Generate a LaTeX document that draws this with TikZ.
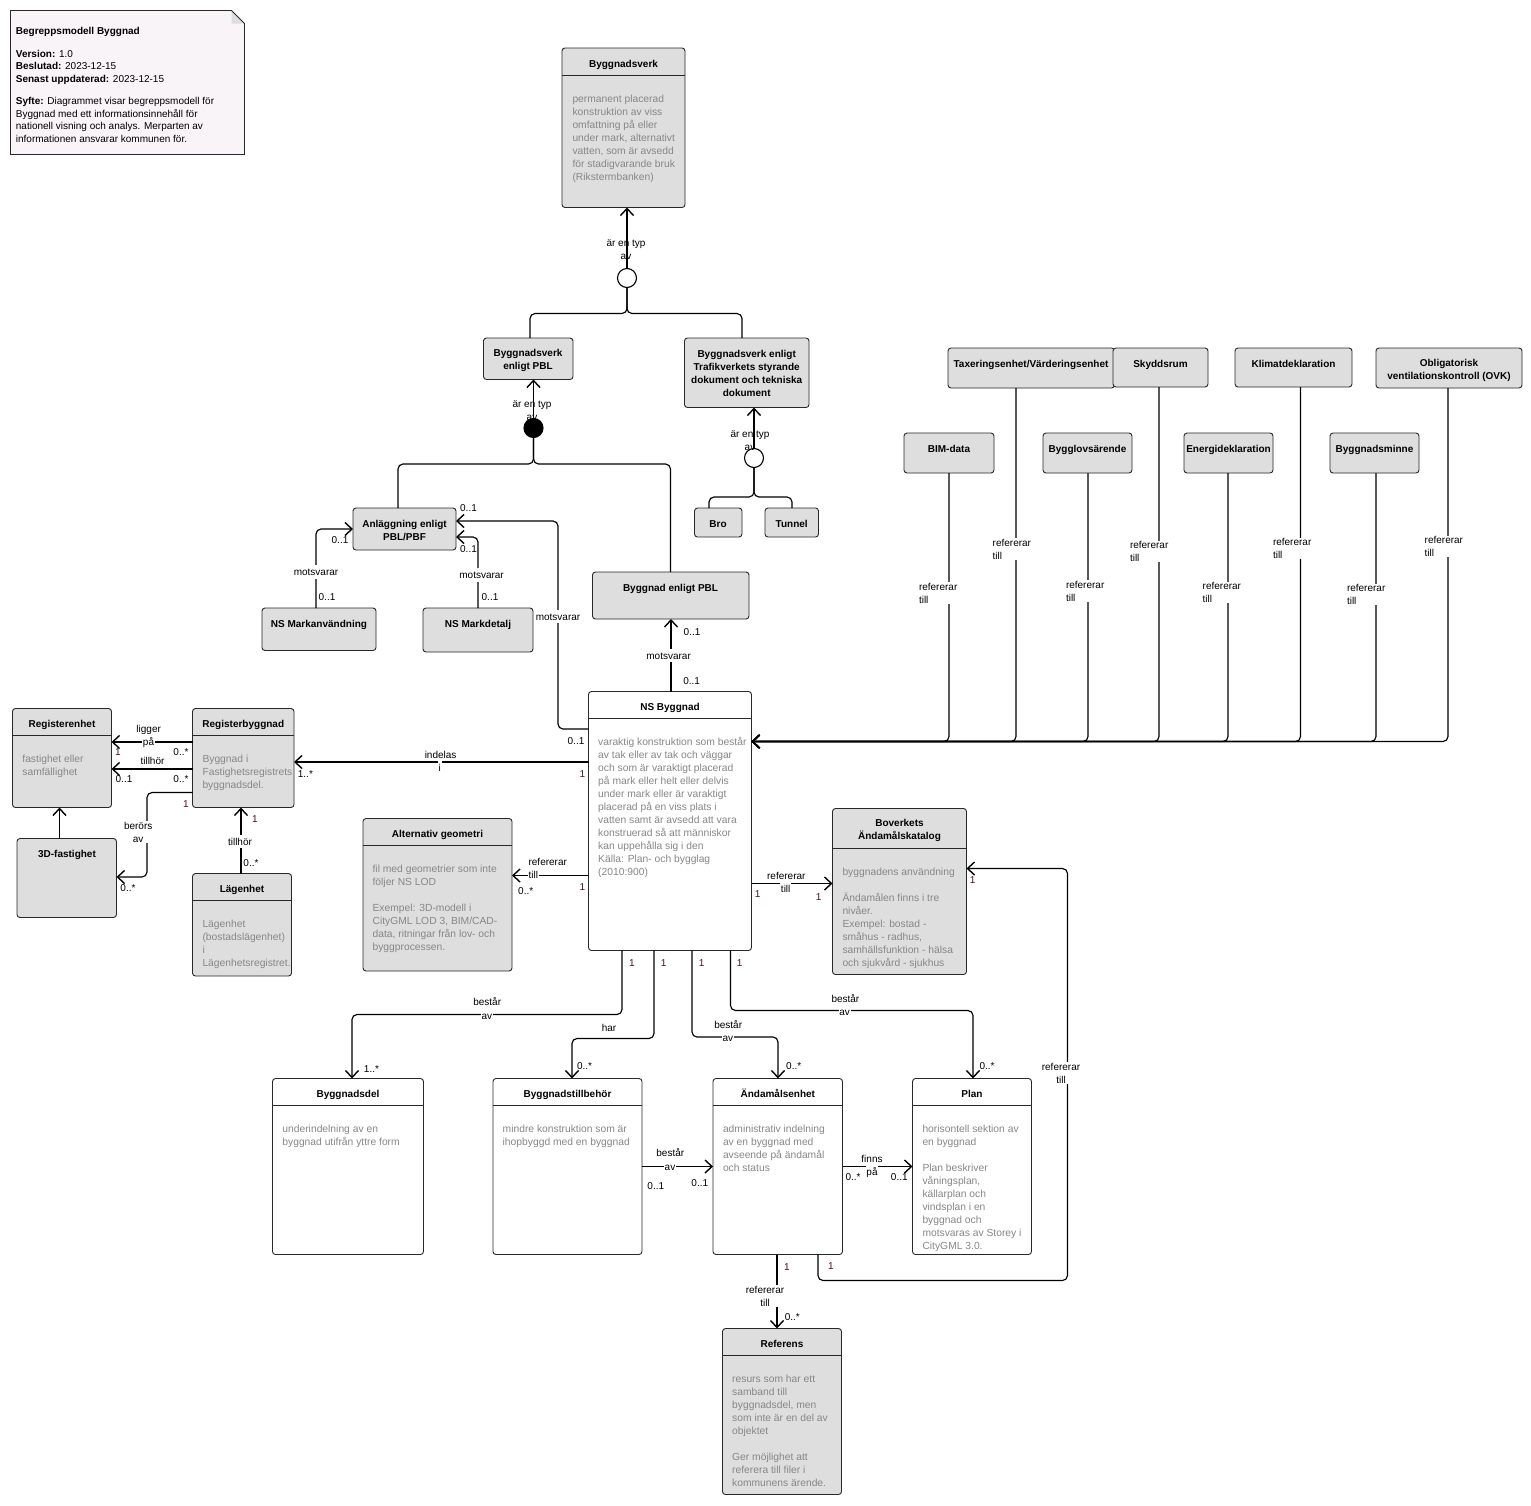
\documentclass[tikz,border=0pt]{standalone}
\usepackage{fontspec}
\setmainfont{Liberation Sans}
\usetikzlibrary{arrows.meta}
\definecolor{boxgray}{RGB}{222,222,222}
\definecolor{notefill}{RGB}{248,244,248}
\definecolor{desctext}{RGB}{135,135,135}
\definecolor{multone}{RGB}{80,10,50}
\definecolor{boxborder}{RGB}{40,40,40}
\newcommand\UBox[6]{\node[ubox,#6,minimum width={#4-#2},minimum height={#5-#3}] (#1) at ({(#2+#4)/2},{(#3+#5)/2}) {};}
\newcommand\HSep[2]{\draw[sepline] (#1.west |- 0,#2) -- (#1.east |- 0,#2);}
\newcommand\Desc[4]{\node[desc] (#1) at (#2,{#3-5.9}) {\rule{0pt}{9.5pt}#4};}
\begin{document}
\begin{tikzpicture}[x=1pt,y=-1pt,
  ubox/.style={draw=boxborder, line width=0.9pt, rounded corners=3pt, inner sep=0pt, outer sep=0pt},
  gbox/.style={ubox, fill=boxgray},
  wbox/.style={ubox, fill=white},
  sepline/.style={draw=boxborder, line width=0.9pt},
  conn/.style={draw=black, line width=1.15pt, rounded corners=5pt, -{Straight Barb[length=7pt,width=13pt,line width=1.4pt]}},
  plain/.style={draw=black, line width=1.15pt, rounded corners=5pt},
  ttl/.style={font=\bfseries\fontsize{10}{13}\selectfont, inner sep=0pt, text height=7.2pt, text depth=0pt},
  ttlm/.style={font=\bfseries\fontsize{10}{13}\selectfont, inner sep=0pt, align=center},
  desc/.style={anchor=north west, inner sep=0pt, align=left, font=\fontsize{10.3}{13}\selectfont, text=desctext},
  lab/.style={font=\fontsize{10}{13}\selectfont, inner sep=0.8pt, text height=7.2pt, text depth=0pt},
  labw/.style={lab, fill=white, inner ysep=3pt},
  blab/.style={font=\fontsize{10}{13}\selectfont, inner sep=0.8pt, align=center, fill=white},
  blabn/.style={font=\fontsize{10}{13}\selectfont, inner sep=0pt, align=center},
  rlab/.style={blab, anchor=west, align=left},
  mult/.style={font=\fontsize{10}{13}\selectfont, inner sep=0pt, text height=7.2pt, text depth=0pt},
  one/.style={mult, text=multone},
  gen/.style={circle, draw=black, line width=1.1pt, minimum size=19pt, inner sep=0pt, fill=white},
]
\useasboundingbox (0,0) rectangle (1531,1505);
\fill[white] (0,0) rectangle (1531,1505);

% ---- note ----
\fill[notefill] (10.5,10.5) -- (231.5,10.5) -- (244.5,23.5) -- (244.5,154.5) -- (10.5,154.5) -- cycle;
\fill[boxgray] (231.5,10.5) -- (244.5,23.5) -- (231.5,23.5) -- cycle;
\draw[line width=0.9pt, draw=boxborder] (10.5,10.5) -- (231.5,10.5) -- (244.5,23.5) -- (244.5,154.5) -- (10.5,154.5) -- cycle;
\node[desc, text=black, font=\fontsize{10}{12.5}\selectfont] (notetxt) at (15.7,{30.7-5.9}) {\rule{0pt}{9.5pt}\textbf{Begreppsmodell Byggnad}\\[10pt]\textbf{Version:} 1.0\\\textbf{Beslutad:} 2023-12-15\\\textbf{Senast uppdaterad:} 2023-12-15\\[10pt]\textbf{Syfte:} Diagrammet visar begreppsmodell för\\Byggnad med ett informationsinnehåll för\\nationell visning och analys. Merparten av\\informationen ansvarar kommunen för.};

% ---- boxes ----
\UBox{bv}{562}{48}{685}{207.5}{gbox}\HSep{bv}{75}
\UBox{bvpbl}{483.5}{338}{573}{379.5}{gbox}
\UBox{bvtrv}{684.5}{338}{809}{407.5}{gbox}
\UBox{anl}{353}{508}{456}{550}{gbox}
\UBox{nsm}{262}{608}{376}{650.5}{gbox}
\UBox{nsmd}{423}{608}{533}{652}{gbox}
\UBox{bpbl}{592.5}{572}{749}{619}{gbox}
\UBox{bro}{694.5}{508}{742}{537}{gbox}
\UBox{tun}{765}{508}{818.5}{537}{gbox}
\UBox{tax}{948}{348}{1114.5}{388}{gbox}
\UBox{sky}{1113}{348}{1208}{387}{gbox}
\UBox{kli}{1235}{348}{1352}{387}{gbox}
\UBox{ovk}{1376}{348}{1522}{388}{gbox}
\UBox{bim}{904}{433}{994}{473}{gbox}
\UBox{bygl}{1043}{433}{1132}{473}{gbox}
\UBox{ene}{1184}{433}{1273}{473}{gbox}
\UBox{bmin}{1330}{433}{1419}{473}{gbox}
\UBox{re}{12.5}{708.5}{111.5}{807.5}{gbox}\HSep{re}{735}
\UBox{rb}{192.5}{708.5}{294}{807.5}{gbox}\HSep{rb}{735}
\UBox{f3d}{17}{838.5}{116.5}{917.5}{gbox}
\UBox{lag}{192.5}{873.5}{291.5}{976}{gbox}\HSep{lag}{900}
\UBox{alt}{363}{818.5}{512}{971}{gbox}\HSep{alt}{845.5}
\UBox{nsb}{588.5}{691.5}{751.5}{950.5}{wbox}\HSep{nsb}{718.5}
\UBox{bov}{832.5}{808.5}{966.5}{974.5}{gbox}\HSep{bov}{848.5}
\UBox{bdel}{272.5}{1078.5}{423.5}{1254.5}{wbox}\HSep{bdel}{1105.5}
\UBox{btb}{493}{1078.5}{642}{1254.5}{wbox}\HSep{btb}{1105.5}
\UBox{aend}{713}{1078.5}{842.5}{1254.5}{wbox}\HSep{aend}{1105.5}
\UBox{plan}{912.5}{1078.5}{1031.5}{1254.5}{wbox}\HSep{plan}{1105.5}
\UBox{ref}{722.5}{1328.5}{841.5}{1494.5}{gbox}\HSep{ref}{1355.5}

% ---- generalization circles ----
\node[gen] (gc1) at (627,278) {};
\node[gen, fill=black] (gc2) at (533.5,428) {};
\node[gen] (gc3) at (754,458) {};

% ---- titles ----
\node[ttl] (tbv) at (623.5,63.7) {Byggnadsverk};
\node[ttlm] (tbvpbl) at (528,360.2) {Byggnadsverk\\enligt PBL};
\node[ttlm] (tbvtrv) at (746.7,373) {Byggnadsverk enligt\\Trafikverkets styrande\\dokument och tekniska\\dokument};
\node[ttlm] (tanl) at (404.5,530) {Anläggning enligt\\PBL/PBF};
\node[ttl] (tnsm) at (319,623.7) {NS Markanvändning};
\node[ttl] (tnsmd) at (478,623.7) {NS Markdetalj};
\node[ttl] (tbpbl) at (670.5,587.7) {Byggnad enligt PBL};
\node[ttl] (tbro) at (718,523.7) {Bro};
\node[ttl] (ttun) at (791.7,523.7) {Tunnel};
\node[ttl] (ttax) at (1031,363.7) {Taxeringsenhet/Värderingsenhet};
\node[ttl] (tsky) at (1160.5,363.7) {Skyddsrum};
\node[ttl] (tkli) at (1293.5,363.7) {Klimatdeklaration};
\node[ttlm] (tovk) at (1449,370.2) {Obligatorisk\\ventilationskontroll (OVK)};
\node[ttl] (tbim) at (949,448.7) {BIM-data};
\node[ttl] (tbygl) at (1087.5,448.7) {Bygglovsärende};
\node[ttl] (tene) at (1228.5,448.7) {Energideklaration};
\node[ttl] (tbmin) at (1374.5,448.7) {Byggnadsminne};
\node[ttl] (tre) at (62,723.7) {Registerenhet};
\node[ttl] (trb) at (243.3,723.7) {Registerbyggnad};
\node[ttl] (tf3d) at (67,853.7) {3D-fastighet};
\node[ttl] (tlag) at (242,888.7) {Lägenhet};
\node[ttl] (talt) at (437.5,833.7) {Alternativ geometri};
\node[ttl] (tnsb) at (670,706.7) {NS Byggnad};
\node[ttlm] (tbov) at (899.5,830.2) {Boverkets\\Ändamålskatalog};
\node[ttl] (tbdel) at (348,1093.7) {Byggnadsdel};
\node[ttl] (tbtb) at (567.5,1093.7) {Byggnadstillbehör};
\node[ttl] (taend) at (777.8,1093.7) {Ändamålsenhet};
\node[ttl] (tplan) at (972,1093.7) {Plan};
\node[ttl] (tref) at (782,1343.7) {Referens};

% ---- descriptions ----
\Desc{dbv}{572.3}{99}{permanent placerad\\konstruktion av viss\\omfattning på eller\\under mark, alternativt\\vatten, som är avsedd\\för stadigvarande bruk\\(Rikstermbanken)}
\Desc{dre}{22.2}{758.7}{fastighet eller\\samfällighet}
\Desc{drb}{202.3}{758.7}{Byggnad i\\Fastighetsregistrets\\byggnadsdel.}
\Desc{dlag}{202.3}{923.7}{Lägenhet\\(bostadslägenhet)\\i\\Lägenhetsregistret.}
\Desc{dalt}{372.4}{868.7}{fil med geometrier som inte\\följer NS LOD\\[13pt]Exempel: 3D-modell i\\CityGML LOD 3, BIM/CAD-\\data, ritningar från lov- och\\byggprocessen.}
\Desc{dnsb}{598}{741.7}{varaktig konstruktion som består\\av tak eller av tak och väggar\\och som är varaktigt placerad\\på mark eller helt eller delvis\\under mark eller är varaktigt\\placerad på en viss plats i\\vatten samt är avsedd att vara\\konstruerad så att människor\\kan uppehålla sig i den\\Källa: Plan- och bygglag\\(2010:900)}
\Desc{dbov}{842.3}{871.7}{byggnadens användning\\[13pt]Ändamålen finns i tre\\nivåer.\\Exempel: bostad -\\småhus - radhus,\\samhällsfunktion - hälsa\\och sjukvård - sjukhus}
\Desc{dbdel}{282.2}{1128.7}{underindelning av en\\byggnad utifrån yttre form}
\Desc{dbtb}{502.5}{1128.7}{mindre konstruktion som är\\ihopbyggd med en byggnad}
\Desc{daend}{722.8}{1128.7}{administrativ indelning\\av en byggnad med\\avseende på ändamål\\och status}
\Desc{dplan}{922.3}{1128.7}{horisontell sektion av\\en byggnad\\[13pt]Plan beskriver\\våningsplan,\\källarplan och\\vindsplan i en\\byggnad och\\motsvaras av Storey i\\CityGML 3.0.}
\Desc{dref}{732}{1378.7}{resurs som har ett\\samband till\\byggnadsdel, men\\som inte är en del av\\objektet\\[13pt]Ger möjlighet att\\referera till filer i\\kommunens ärende.}

% ---- connectors ----
\draw[conn] (gc1.north) -- (gc1.north |- bv.south);
\draw[plain] (gc1.south) |- (530,313.5) -- (bvpbl.north -| 530,0);
\draw[plain] (gc1.south) |- (742,313.5) -- (bvtrv.north -| 742,0);
\draw[conn] (gc2.north) -- (gc2.north |- bvpbl.south);
\draw[plain] (gc2.south) |- (398,464) -- (anl.north -| 398,0);
\draw[plain] (gc2.south) |- (670.5,464) -- (bpbl.north -| 670.5,0);
\draw[conn] (gc3.north) -- (gc3.north |- bvtrv.south);
\draw[plain] (gc3.south) |- (709,497) -- (bro.north -| 709,0);
\draw[plain] (gc3.south) |- (792,497) -- (tun.north -| 792,0);

\draw[conn] (nsm.north -| 316,0) |- (anl.west |- 0,529);
\draw[conn] (nsmd.north -| 478,0) |- (anl.east |- 0,537);
\draw[conn] (nsb.west |- 0,729) -| (558,521) -- (anl.east |- 0,521);
\draw[conn] (nsb.north -| 671,0) -- (bpbl.south -| 671,0);

\foreach \n/\x in {bim/949, tax/1016, bygl/1088, sky/1159, ene/1228, kli/1300.5, bmin/1376, ovk/1448}
  \draw[conn] (\n.south -| \x,0) |- (nsb.east |- 0,741.5);

\draw[conn] (rb.west |- 0,742) -- (re.east |- 0,742);
\draw[conn] (rb.west |- 0,769) -- (re.east |- 0,769);
\draw[conn] (rb.west |- 0,792.5) -| (147,877) -- (f3d.east |- 0,877);
\draw[conn] (f3d.north -| 59.5,0) -- (re.south -| 59.5,0);
\draw[conn] (lag.north -| 241,0) -- (rb.south -| 241,0);
\draw[conn] (nsb.west |- 0,762) -- (rb.east |- 0,762);
\draw[conn] (nsb.west |- 0,875.5) -- (alt.east |- 0,875.5);
\draw[conn] (nsb.east |- 0,883.5) -- (bov.west |- 0,883.5);

\draw[conn] (nsb.south -| 622,0) |- (352,1014.5) -- (bdel.north -| 352,0);
\draw[conn] (nsb.south -| 654,0) |- (572,1038.5) -- (btb.north -| 572,0);
\draw[conn] (nsb.south -| 692,0) |- (778,1037) -- (aend.north -| 778,0);
\draw[conn] (nsb.south -| 730.5,0) |- (973,1010.5) -- (plan.north -| 973,0);
\draw[conn] (btb.east |- 0,1166.5) -- (aend.west |- 0,1166.5);
\draw[conn] (aend.east |- 0,1166.5) -- (plan.west |- 0,1166.5);
\draw[conn] (aend.south -| 777,0) -- (ref.north -| 777,0);
\draw[conn] (aend.south -| 818,0) |- (1067.5,1280.5) |- (bov.east |- 0,868.5);

% ---- edge labels ----
\node[blabn] (e1) at (626,249.5) {är en typ\\av};
\node[blabn] (e2) at (532,410.5) {är en typ\\av};
\node[blabn] (e3) at (750,440.5) {är en typ\\av};
\node[labw] (e4) at (316,572) {motsvarar};
\node[labw] (e5) at (481.6,575) {motsvarar};
\node[labw] (e6) at (558,616.7) {motsvarar};
\node[labw] (e7) at (668.6,655.7) {motsvarar};
\node[lab] (e8) at (148.7,729) {ligger};
\node[labw] (e9) at (148.5,741.7) {på};
\node[lab] (e10) at (152.5,760.7) {tillhör};
\node[blab] (e11) at (138.2,832.2) {berörs\\av};
\node[labw] (e12) at (240,841.7) {tillhör};
\node[lab] (e13) at (440.6,754.7) {indelas};
\node[labw] (e14) at (439.8,767.7) {i};
\node[lab, anchor=west] (e15) at (527.6,862) {refererar};
\node[labw, anchor=west] (e16) at (527.6,874.7) {till};
\node[lab] (e17) at (786.3,875.7) {refererar};
\node[labw] (e18) at (785.7,888.7) {till};
\node[lab] (e19) at (487.2,1002.3) {består};
\node[labw] (e20) at (486.8,1015.7) {av};
\node[lab] (e21) at (609,1027.7) {har};
\node[lab] (e22) at (728.2,1024.7) {består};
\node[labw] (e23) at (727.8,1038) {av};
\node[lab] (e24) at (845.4,998.7) {består};
\node[labw] (e25) at (844.7,1012) {av};
\node[lab] (e26) at (670.3,1153.3) {består};
\node[labw] (e27) at (670,1166.7) {av};
\node[lab] (e28) at (872,1158.7) {finns};
\node[labw] (e29) at (872,1172) {på};
\node[blab] (e30) at (1061,1073.2) {refererar\\till};
\node[blab] (e31) at (765,1296.3) {refererar\\till};
\node[rlab] (e32) at (918,593) {refererar\\till};
\node[rlab] (e33) at (991.7,549.2) {refererar\\till};
\node[rlab] (e34) at (1065,591.2) {refererar\\till};
\node[rlab] (e35) at (1129,551.5) {refererar\\till};
\node[rlab] (e36) at (1201.7,592.5) {refererar\\till};
\node[rlab] (e37) at (1272,548.5) {refererar\\till};
\node[rlab] (e38) at (1346,594.5) {refererar\\till};
\node[rlab] (e39) at (1423.7,546.5) {refererar\\till};

% ---- multiplicities ----
\node[mult] (m1) at (327,597) {0..1};
\node[mult] (m2) at (340,540) {0..1};
\node[mult] (m3) at (468.5,548.5) {0..1};
\node[mult] (m4) at (490,597) {0..1};
\node[mult] (m5) at (468.5,507.7) {0..1};
\node[mult] (m6) at (576,740.7) {0..1};
\node[mult] (m7) at (692,631.7) {0..1};
\node[mult] (m8) at (691.6,681) {0..1};
\node[one] (m9) at (118,752.3) {1};
\node[mult] (m10) at (181,752.3) {0..*};
\node[mult] (m11) at (124,779.3) {0..1};
\node[mult] (m12) at (181,779.3) {0..*};
\node[one] (m13) at (186,803.7) {1};
\node[mult] (m14) at (128,888.3) {0..*};
\node[one] (m15) at (255,819.3) {1};
\node[mult] (m16) at (251,862.7) {0..*};
\node[mult] (m17) at (305.4,773.7) {1..*};
\node[one] (m18) at (582.4,773.7) {1};
\node[mult] (m19) at (525.7,890.7) {0..*};
\node[one] (m20) at (582.4,886.7) {1};
\node[one] (m21) at (757.7,894.3) {1};
\node[one] (m22) at (818.7,897.3) {1};
\node[one] (m23) at (972.7,879.7) {1};
\node[one] (m24) at (632,962.7) {1};
\node[one] (m25) at (663.7,962.7) {1};
\node[one] (m26) at (701.7,962.7) {1};
\node[one] (m27) at (739.7,962.7) {1};
\node[mult] (m28) at (371.5,1069) {1..*};
\node[mult] (m29) at (584.5,1066.3) {0..*};
\node[mult] (m30) at (793.7,1066.3) {0..*};
\node[mult] (m31) at (987,1066.3) {0..*};
\node[mult] (m32) at (655.8,1186.3) {0..1};
\node[mult] (m33) at (699.8,1183.3) {0..1};
\node[mult] (m34) at (853,1177.3) {0..*};
\node[mult] (m35) at (899.3,1177.3) {0..1};
\node[one] (m36) at (831,1265.7) {1};
\node[one] (m37) at (787,1266.5) {1};
\node[mult] (m38) at (792.3,1316.7) {0..*};
\end{tikzpicture}
\end{document}
